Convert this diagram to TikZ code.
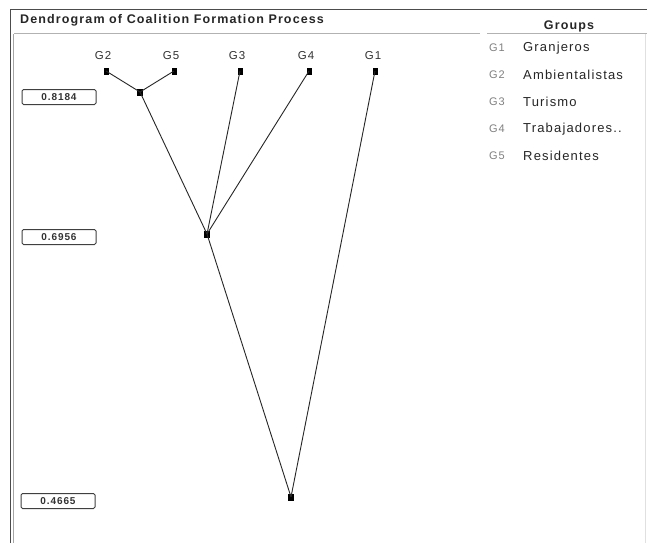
\documentclass[tikz,border=0pt]{standalone}
\usepackage{fontspec}
\setmainfont{Liberation Sans}
\newfontfamily\spaced[LetterSpace=9]{Liberation Sans}
\begin{document}
\begin{tikzpicture}[x=1pt,y=-1pt,
  leaf/.style={fill=black,minimum width=5pt,minimum height=7pt,inner sep=0pt},
  joint/.style={fill=black,minimum width=6pt,minimum height=7pt,inner sep=0pt},
  glabel/.style={font=\spaced\fontsize{11.5}{13}\selectfont,text=black!80,inner sep=0pt},
  valbox/.style={draw=black!75,line width=1pt,rounded corners=1.5pt,minimum width=74pt,minimum height=15pt,inner sep=0pt,font=\spaced\fontsize{10}{11}\selectfont\bfseries,text=black!80},
  legid/.style={font=\spaced\fontsize{11}{13}\selectfont,text=black!50,anchor=west,inner sep=0pt},
  legname/.style={font=\spaced\fontsize{13}{15}\selectfont,text=black!85,anchor=west,inner sep=0pt},
  link/.style={line width=0.9pt,black!85}]
\useasboundingbox (0,0) rectangle (647,543);
\fill[white] (0,0) rectangle (647,543);
% outer frame
\draw[black!70,line width=1pt] (10,543) -- (10,10) -- (647,10);
\draw[black!35,line width=0.5pt] (13,543) -- (13,34);
\draw[black!30,line width=0.6pt] (14,33) -- (480,33);
\draw[black!30,line width=0.6pt] (487,33) -- (647,33);
\draw[black!12,line width=0.6pt] (645,34) -- (645,543);
% headings
\node[anchor=west,inner sep=0pt,font=\spaced\fontsize{12.5}{14}\selectfont\bfseries,text=black!85] (title) at (20,20) {Dendrogram of Coalition Formation Process};
\node[inner sep=0pt,font=\spaced\fontsize{12.5}{14}\selectfont\bfseries,text=black!85] (groups) at (569,26) {Groups};
% leaves
\node[leaf] (g2) at (106,71) {};
\node[leaf] (g5) at (174,71) {};
\node[leaf] (g3) at (240,71) {};
\node[leaf] (g4) at (309,71) {};
\node[leaf] (g1) at (375,71) {};
\node[glabel] (l2) at (103,56) {G2};
\node[glabel] (l5) at (171,56) {G5};
\node[glabel] (l3) at (237,56) {G3};
\node[glabel] (l4) at (306,56) {G4};
\node[glabel] (l1) at (373,56) {G1};
% merge points
\node[joint] (m1) at (140,92) {};
\node[joint] (m2) at (207,234) {};
\node[joint] (m3) at (291,497) {};
% links
\draw[link] (g2.center) -- (m1.center);
\draw[link] (g5.center) -- (m1.center);
\draw[link] (m1.center) -- (m2.center);
\draw[link] (g3.center) -- (m2.center);
\draw[link] (g4.center) -- (m2.center);
\draw[link] (m2.center) -- (m3.center);
\draw[link] (g1.center) -- (m3.center);
% level values
\node[valbox] (v1) at (59,97) {0.8184};
\node[valbox] (v2) at (59,237) {0.6956};
\node[valbox] (v3) at (58,501) {0.4665};
% legend
\node[legid] (k1) at (489,48) {G1};
\node[legname] (n1) at (523,48) {Granjeros};
\node[legid] (k2) at (489,75) {G2};
\node[legname] (n2) at (523,75) {Ambientalistas};
\node[legid] (k3) at (489,102) {G3};
\node[legname] (n3) at (523,102) {Turismo};
\node[legid] (k4) at (489,129) {G4};
\node[legname] (n4) at (523,129) {Trabajadores..};
\node[legid] (k5) at (489,156) {G5};
\node[legname] (n5) at (523,156) {Residentes};
\end{tikzpicture}
\end{document}
